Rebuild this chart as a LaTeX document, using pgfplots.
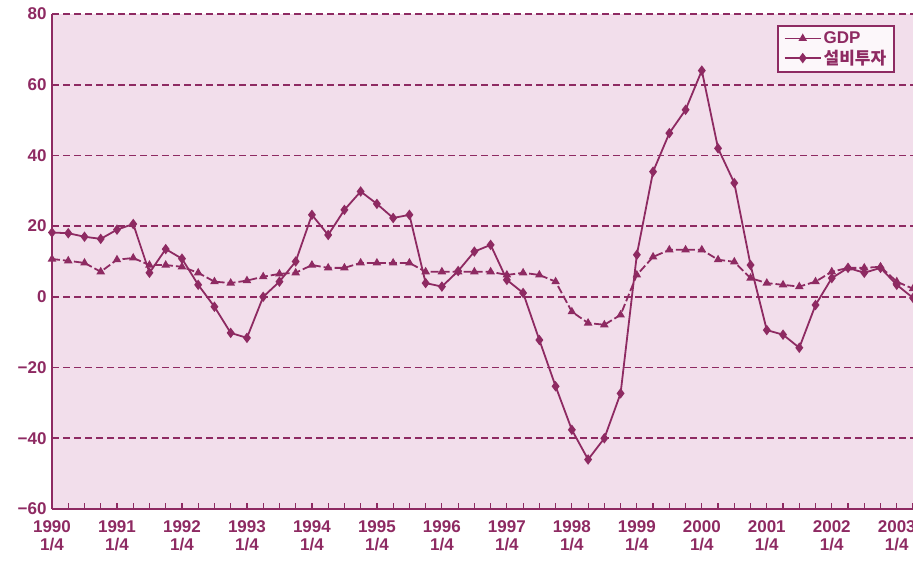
\documentclass[border=0pt]{standalone}
\usepackage{fontspec}
\setmainfont{Liberation Sans}
\newfontfamily\cjk{Noto Sans CJK KR}
\usepackage{pgfplots}
\pgfplotsset{compat=1.18}
\definecolor{mag}{HTML}{8E2A62}
\definecolor{bgp}{HTML}{F2DEEB}
\begin{document}
\begin{tikzpicture}
\path[use as bounding box] (-52pt,-54pt) rectangle (861pt,509pt);
\begin{axis}[
  at={(0,0)}, anchor=south west,
  scale only axis, width=861pt, height=495pt,
  xmin=0, xmax=53, ymin=-60, ymax=80,
  axis background/.style={fill=bgp},
  axis line style={mag, line width=1.8pt},
  axis x line*=bottom, axis y line*=left,
  ytick={-60,-40,-20,0,20,40,60,80},
  yticklabels={−60,−40,−20,0,20,40,60,80},
  ymajorgrids, major grid style={mag, line width=1.8pt, dash pattern=on 7pt off 4pt},
  major y tick style={draw=none},
  xtick={0,4,...,52},
  xticklabels={{1990\\1/4},{1991\\1/4},{1992\\1/4},{1993\\1/4},{1994\\1/4},{1995\\1/4},{1996\\1/4},{1997\\1/4},{1998\\1/4},{1999\\1/4},{2000\\1/4},{2001\\1/4},{2002\\1/4},{2003\\1/4}},
  minor xtick={1,2,...,53},
  major x tick style={mag, line width=1.2pt},
  minor x tick style={mag, line width=1.2pt},
  tick align=inside, major tick length=6pt, minor tick length=6pt,
  xticklabel style={align=center, font=\bfseries\fontsize{17}{18}\selectfont, text=mag, yshift=-8pt},
  yticklabel style={font=\bfseries\fontsize{17}{17}\selectfont, text=mag, xshift=-2pt},
  clip=false,
  legend style={at={(1,1)}, anchor=north east, xshift=-18pt, yshift=-11pt,
    draw=mag, line width=1.6pt, fill=white!75!bgp, font=\bfseries\fontsize{17}{17}\selectfont, text=mag,
    row sep=1pt, inner xsep=6pt, inner ysep=4pt},
  legend cell align=left,
  legend image code/.code={\draw[#1, solid] (0pt,0pt) -- (36pt,0pt); \draw[#1, solid, only marks] plot coordinates {(18pt,0pt)};},
]
\addplot[mag, line width=1.8pt, dash pattern=on 8pt off 3pt, mark=triangle*, mark size=3.2pt, mark options={solid, fill=mag}] coordinates {
(0,10.7)(1,10.2)(2,9.6)(3,7.1)(4,10.5)(5,11)(6,9)(7,9)(8,8.5)(9,6.8)
(10,4.3)(11,3.9)(12,4.6)(13,5.7)(14,6.5)(15,6.8)(16,9)(17,8.2)(18,8.2)(19,9.6)
(20,9.6)(21,9.6)(22,9.6)(23,7.1)(24,7.1)(25,7.1)(26,7.1)(27,7.1)(28,6.2)(29,6.8)
(30,6.2)(31,4.3)(32,-4.2)(33,-7.4)(34,-7.9)(35,-5.1)(36,6.2)(37,11.3)(38,13.3)(39,13.3)
(40,13.3)(41,10.5)(42,9.9)(43,5.3)(44,3.9)(45,3.4)(46,2.9)(47,4.3)(48,7.1)(49,8.2)
(50,8.2)(51,8.5)(52,4.3)(53,2.3)};
\addlegendentry{GDP}
\addplot[mag, line width=1.8pt, mark=diamond*, mark size=3.8pt, mark options={solid, fill=mag}] coordinates {
(0,18.2)(1,18)(2,17)(3,16.4)(4,19)(5,20.6)(6,6.8)(7,13.5)(8,10.8)(9,3.4)
(10,-2.8)(11,-10.2)(12,-11.6)(13,0)(14,4.3)(15,10)(16,23.2)(17,17.5)(18,24.6)(19,29.8)
(20,26.3)(21,22.3)(22,23.2)(23,3.9)(24,2.9)(25,7.3)(26,12.8)(27,14.7)(28,4.8)(29,1.1)
(30,-12.2)(31,-25.3)(32,-37.6)(33,-46)(34,-40)(35,-27.3)(36,11.9)(37,35.4)(38,46.3)(39,52.9)
(40,64)(41,42)(42,32.2)(43,9)(44,-9.4)(45,-10.7)(46,-14.4)(47,-2.3)(48,5.3)(49,8.2)
(50,6.8)(51,8.2)(52,3.4)(53,-0.3)};
\addlegendentry{\cjk 설비투자}
\end{axis}
\end{tikzpicture}
\end{document}
